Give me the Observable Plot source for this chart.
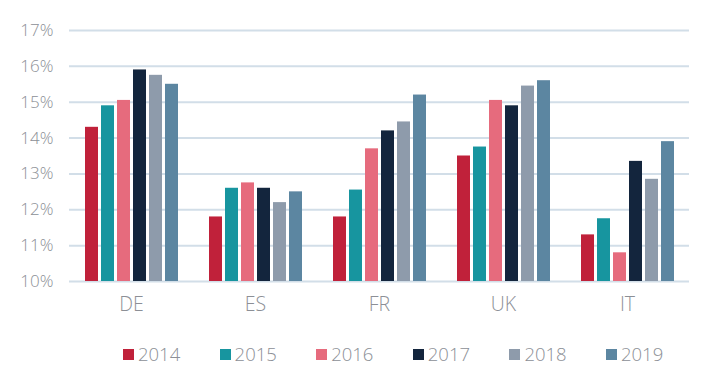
<!DOCTYPE html>
<html>
<head>
<meta charset="utf-8">
<script src="https://cdn.jsdelivr.net/npm/d3@7"></script>
<script src="https://cdn.jsdelivr.net/npm/@observablehq/plot@0.6"></script>
<style>
  html, body { margin: 0; padding: 0; background: #fff; }
  body { width: 716px; height: 374px; overflow: hidden; font-family: "Open Sans", sans-serif; }
  #legend { display: flex; padding-left: 123px; margin-top: 17px; }
  .item { width: 96.6px; flex: none; display: flex; align-items: center; color: #8c8f96; font-size: 18.5px; font-weight: 300; line-height: 24px; }
  .sw { width: 11px; height: 11px; margin-right: 4px; }
</style>
</head>
<body>
<div id="chart"></div>
<div id="legend"></div>
<script>
const countries = ["DE", "ES", "FR", "UK", "IT"];
const years = ["2014", "2015", "2016", "2017", "2018", "2019"];
const v2014 = [14.3, 11.8, 11.8, 13.5, 11.3];
const v2015 = [14.9, 12.6, 12.55, 13.75, 11.75];
const v2016 = [15.05, 12.75, 13.7, 15.05, 10.8];
const v2017 = [15.9, 12.6, 14.2, 14.9, 13.35];
const v2018 = [15.75, 12.2, 14.45, 15.45, 12.85];
const v2019 = [15.5, 12.5, 15.2, 15.6, 13.9];
const yTicks = [10, 11, 12, 13, 14, 15, 16, 17];
const colors = ["#c0213a", "#17959f", "#e66b7d", "#13253d", "#8e9bab", "#5c86a1"];

const series = [v2014, v2015, v2016, v2017, v2018, v2019];
const data = [];
countries.forEach((c, i) => years.forEach((y, j) => data.push({country: c, year: y, value: series[j][i]})));

const chart = Plot.plot({
  width: 716,
  height: 325,
  marginLeft: 68,
  marginRight: 26,
  marginTop: 30,
  marginBottom: 44,
  style: {fontFamily: "'Open Sans', sans-serif", fontSize: "17px", color: "#8c8f96", background: "#fff", fontWeight: 300},
  fx: {domain: countries, padding: 0, axis: "bottom", tickSize: 0, tickPadding: 16, label: null},
  x: {domain: years, paddingInner: 0.2, paddingOuter: 0.897, axis: null},
  y: {domain: [10, 17], ticks: yTicks, tickFormat: d => d + "%", tickSize: 0, tickPadding: 16, label: null},
  color: {domain: years, range: colors},
  marks: [
    Plot.ruleY(yTicks, {stroke: "#d2dee8", strokeWidth: 2}),
    Plot.barY(data, {fx: "country", x: "year", y1: 10, y2: "value", fill: "year"})
  ]
});
document.getElementById("chart").appendChild(chart);
chart.querySelectorAll("g[aria-label='fx-axis tick label']").forEach(e => e.setAttribute("font-size", "19.5"));

const legend = document.getElementById("legend");
years.forEach((y, j) => {
  const it = document.createElement("div");
  it.className = "item";
  const sw = document.createElement("span");
  sw.className = "sw";
  sw.style.background = colors[j];
  it.appendChild(sw);
  it.appendChild(document.createTextNode(y));
  legend.appendChild(it);
});
</script>
</body>
</html>
